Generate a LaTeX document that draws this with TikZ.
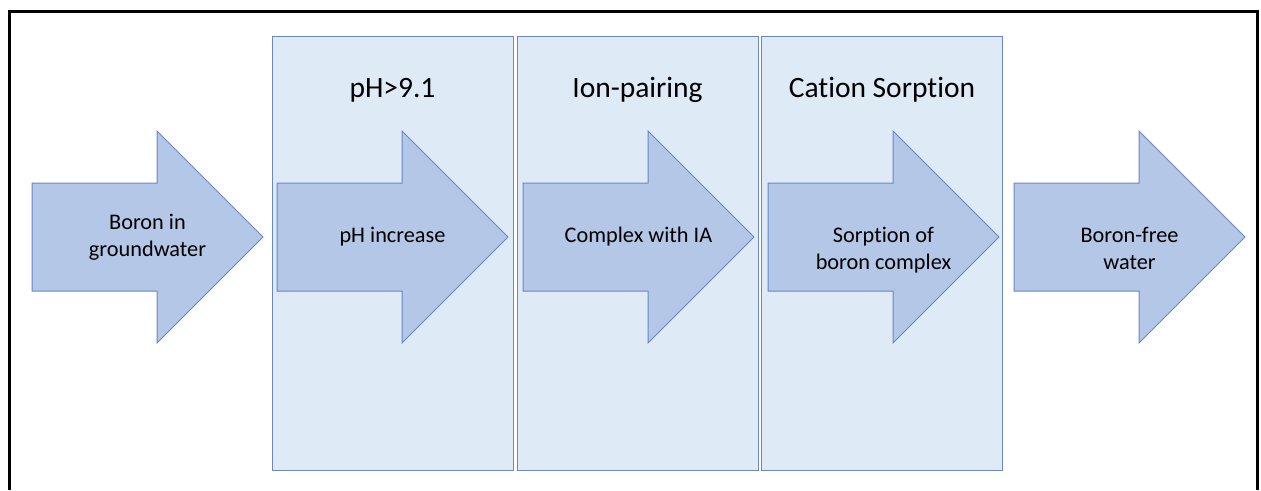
\documentclass[tikz,border=0pt]{standalone}
\usepackage{fontspec}
\setmainfont{Carlito}[Ligatures={NoCommon}]
\usetikzlibrary{positioning}
\definecolor{panelfill}{HTML}{DEEAF6}
\definecolor{arrowfill}{HTML}{B4C7E7}
\definecolor{edgeblue}{HTML}{6A87C4}

\begin{document}
\begin{tikzpicture}
        [
            x=1pt, y=-1pt,
            panel/.style={draw=edgeblue, fill=panelfill, line width=1pt,
                minimum width=241pt, minimum height=434pt, inner sep=0pt},
            flow/.style={draw=edgeblue, fill=arrowfill, line width=1pt},
            title/.style={font=\fontsize{29.5}{34}\selectfont, inner sep=0pt},
            label/.style={font=\fontsize{22.3}{27}\selectfont, align=center, inner sep=0pt},
        ]
        \useasboundingbox (0,0) rectangle (1261,490);
        \fill[white] (0,0) rectangle (1261,490);
        % outer frame, cut off at the bottom
        \draw[line width=3pt] (9,490) -- (9,11) -- (1257,11) -- (1257,490);
        % stage panels
        \node[panel] (ph) at (392.5,253) {};
        \node[panel] (pair) at (637.5,253) {};
        \node[panel] (sorp) at (882,253) {};
        \node[title, below=62pt of ph.north, anchor=base] (phT) {pH>9.1};
        \node[title, below=62pt of pair.north, anchor=base] (pairT) {Ion-pairing};
        \node[title, below=62pt of sorp.north, anchor=base] (sorpT) {Cation Sorption};
        % arrows
        \foreach \x/\y/\name/\txt in {32/237/src/{Boron in\\groundwater},
                277/237/raise/{pH increase},
                523/237/cplx/{Complex with IA},
                768/250/bind/{Sorption of\\boron complex},
                1014/248/clean/{Boron-free\\water}} {
            \draw[flow] (\x,183) -- ++(125,0) -- ++(0,-52) -- ++(106,106)
                -- ++(-106,106) -- ++(0,-52) -- ++(-125,0) -- cycle;
            \node[label] (\name) at (\x+115.5,\y) {\txt};
        }
\end{tikzpicture}
\end{document}
